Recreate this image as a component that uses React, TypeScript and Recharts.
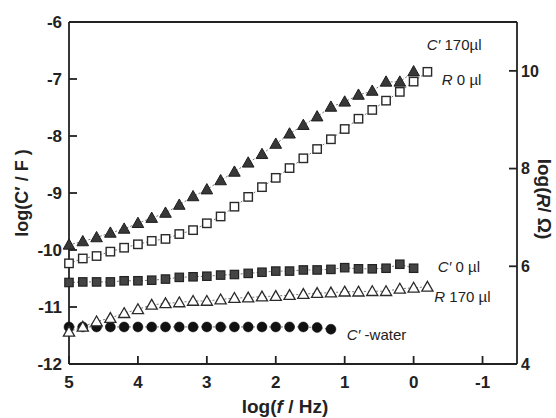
import React from 'react';
import { LineChart, Line, XAxis, YAxis, ReferenceLine, ReferenceDot } from 'recharts';

const FONT = '"Liberation Sans", Arial, Helvetica, sans-serif';

// log(f / Hz) sampling points (5 per decade)
const logF = [5, 4.8, 4.6, 4.4, 4.2, 4, 3.8, 3.6, 3.4, 3.2, 3, 2.8, 2.6, 2.4, 2.2, 2, 1.8, 1.6, 1.4, 1.2, 1, 0.8, 0.6, 0.4, 0.2, 0, -0.2];

// left axis: log(C'/F)
const cPrime170 = [-9.91, -9.85, -9.78, -9.7, -9.63, -9.53, -9.44, -9.35, -9.21, -9.06, -8.94, -8.78, -8.63, -8.47, -8.32, -8.14, -7.96, -7.81, -7.66, -7.49, -7.4, -7.28, -7.21, -7.05, -7.05, -6.87];
const cPrime0 = [-10.57, -10.56, -10.56, -10.56, -10.54, -10.54, -10.53, -10.51, -10.48, -10.47, -10.46, -10.44, -10.43, -10.41, -10.39, -10.37, -10.37, -10.35, -10.35, -10.34, -10.31, -10.33, -10.33, -10.32, -10.25, -10.32];
const cPrimeWater = [-11.35, -11.35, -11.35, -11.35, -11.35, -11.35, -11.35, -11.35, -11.35, -11.35, -11.35, -11.35, -11.35, -11.35, -11.35, -11.35, -11.35, -11.35, -11.36, -11.39];

// right axis: log(R/Ω)
const r0 = [6.06, 6.16, 6.21, 6.3, 6.38, 6.45, 6.52, 6.56, 6.66, 6.74, 6.88, 7.02, 7.22, 7.42, 7.62, 7.81, 8.01, 8.21, 8.4, 8.6, 8.81, 9.02, 9.2, 9.39, 9.57, 9.78, 9.98];
const r170 = [4.66, 4.76, 4.87, 4.94, 5.04, 5.12, 5.21, 5.24, 5.26, 5.29, 5.29, 5.32, 5.35, 5.36, 5.38, 5.39, 5.41, 5.43, 5.45, 5.46, 5.48, 5.48, 5.49, 5.49, 5.54, 5.56, 5.58];

const xTicks = [5, 4, 3, 2, 1, 0, -1];
const leftTicks = [-12, -11, -10, -9, -8, -7, -6];
const rightTicks = [4, 6, 8, 10];

const toPoints = (vals: number[]) => vals.map((v, i) => ({ x: logF[i], y: v }));

const LINE_STROKE = '#777';
const DASH = '2 2';
const AXIS = '#222';
const TICK = -8; // negative = ticks point into the plot

const TriFilled = (p: any) => {
  const { cx, cy } = p;
  if (cx == null || cy == null) return null;
  return <path d={`M${cx},${cy - 6} L${cx + 5.8},${cy + 4.3} L${cx - 5.8},${cy + 4.3} Z`} fill="#383838" stroke="#1e1e1e" strokeWidth={1} />;
};
const TriOpen = (p: any) => {
  const { cx, cy } = p;
  if (cx == null || cy == null) return null;
  return <path d={`M${cx},${cy - 5.5} L${cx + 5.6},${cy + 4.3} L${cx - 5.6},${cy + 4.3} Z`} fill="#fff" stroke="#2a2a2a" strokeWidth={1.3} />;
};
const SqOpen = (p: any) => {
  const { cx, cy } = p;
  if (cx == null || cy == null) return null;
  return <rect x={cx - 4.2} y={cy - 4.2} width={8.4} height={8.4} fill="#fff" stroke="#2a2a2a" strokeWidth={1.4} />;
};
const SqFilled = (p: any) => {
  const { cx, cy } = p;
  if (cx == null || cy == null) return null;
  return <rect x={cx - 4.2} y={cy - 4.2} width={8.4} height={8.4} fill="#444" stroke="#222" strokeWidth={1.2} />;
};
const Circ = (p: any) => {
  const { cx, cy } = p;
  if (cx == null || cy == null) return null;
  return <circle cx={cx} cy={cy} r={5} fill="#111" stroke="#111" strokeWidth={0.5} />;
};

const tickStyle = { fill: '#222', fontSize: 17, fontWeight: 'bold', fontFamily: FONT } as any;
const rightTickStyle = { fill: '#222', fontSize: 16, fontWeight: 'bold', fontFamily: FONT } as any;
const axisLineStyle = { stroke: AXIS, strokeWidth: 1.8 };
const tickLineStyle = { stroke: AXIS, strokeWidth: 1.8 };

const leftTitle = (props: any) => {
  const vb = props.viewBox || { x: 0, y: 0, width: 0, height: 0 };
  const cx = vb.x + 3;
  const cy = vb.y + vb.height / 2;
  return (
    <text x={cx} y={cy} transform={`rotate(-90 ${cx} ${cy})`} textAnchor="middle" dominantBaseline="central" fontFamily={FONT} fontSize={18} fontWeight="bold" fill="#222">
      log(C′ / F )
    </text>
  );
};

const rightTitle = (props: any) => {
  const vb = props.viewBox || { x: 0, y: 0, width: 0, height: 0 };
  const cx = vb.x + 27;
  const cy = vb.y + vb.height / 2 + 6;
  return (
    <text x={cx} y={cy} transform={`rotate(90 ${cx} ${cy})`} textAnchor="middle" dominantBaseline="central" fontFamily={FONT} fontSize={19} fontWeight="bold" fill="#222">
      log(<tspan fontStyle="italic">R</tspan>/ Ω)
    </text>
  );
};

const bottomTitle = (props: any) => {
  const vb = props.viewBox || { x: 0, y: 0, width: 0, height: 0 };
  const cx = vb.x + vb.width / 2 - 8;
  const cy = vb.y + 49;
  return (
    <text x={cx} y={cy} textAnchor="middle" fontFamily={FONT} fontSize={19} fontWeight="bold" fill="#222">
      log(<tspan fontStyle="italic">f</tspan> / Hz)
    </text>
  );
};

const makeLabel = (italicPart: string, rest: string) => (props: any) => {
  const vb = props.viewBox || { x: 0, y: 0 };
  return (
    <text x={vb.x + 1} y={vb.y + 6} textAnchor="start" fontFamily={FONT} fontSize={15} fill="#222">
      <tspan fontStyle="italic">{italicPart}</tspan>
      {rest}
    </text>
  );
};

const seriesLabels = [
  { x: -0.19, y: -6.4, it: 'C′', rest: ' 170µl' },
  { x: -0.41, y: -7.02, it: 'R', rest: ' 0 µl' },
  { x: -0.35, y: -10.3, it: 'C′', rest: ' 0 µl' },
  { x: -0.3, y: -10.82, it: 'R', rest: ' 170 µl' },
  { x: 0.97, y: -11.49, it: 'C′', rest: ' -water' },
];

export default function App() {
  return (
    <div style={{ position: 'absolute', left: 8, top: 8 }}>
      <LineChart width={548} height={410} margin={{ top: 14, right: 3, bottom: 10, left: 11 }}>
        <XAxis
          type="number"
          dataKey="x"
          domain={[-1.5, 5]}
          reversed
          ticks={xTicks}
          interval={0}
          height={44}
          tickSize={TICK}
          tickMargin={20}
          tick={tickStyle}
          axisLine={axisLineStyle}
          tickLine={tickLineStyle}
          label={bottomTitle}
        />
        <YAxis
          yAxisId="left"
          type="number"
          domain={[-12, -6]}
          ticks={leftTicks}
          interval={0}
          width={50}
          tickSize={TICK}
          tickMargin={15}
          tick={tickStyle}
          axisLine={axisLineStyle}
          tickLine={tickLineStyle}
          label={leftTitle}
        />
        <YAxis
          yAxisId="right"
          orientation="right"
          type="number"
          domain={[4, 11]}
          ticks={rightTicks}
          interval={0}
          width={36}
          tickSize={TICK}
          tickMargin={12}
          tick={rightTickStyle}
          axisLine={axisLineStyle}
          tickLine={tickLineStyle}
          label={rightTitle}
        />
        <ReferenceLine yAxisId="left" y={-6} stroke={AXIS} strokeWidth={1.8} />

        <Line yAxisId="left" data={toPoints(cPrimeWater)} dataKey="y" stroke={LINE_STROKE} strokeWidth={1} strokeDasharray={DASH} isAnimationActive={false} activeDot={false} dot={(p: any) => <Circ key={`w${p.index}`} {...p} />} />
        <Line yAxisId="right" data={toPoints(r170)} dataKey="y" stroke={LINE_STROKE} strokeWidth={1} strokeDasharray={DASH} isAnimationActive={false} activeDot={false} dot={(p: any) => <TriOpen key={`t${p.index}`} {...p} />} />
        <Line yAxisId="left" data={toPoints(cPrime0)} dataKey="y" stroke={LINE_STROKE} strokeWidth={1} strokeDasharray={DASH} isAnimationActive={false} activeDot={false} dot={(p: any) => <SqFilled key={`s${p.index}`} {...p} />} />
        <Line yAxisId="right" data={toPoints(r0)} dataKey="y" stroke={LINE_STROKE} strokeWidth={1} strokeDasharray={DASH} isAnimationActive={false} activeDot={false} dot={(p: any) => <SqOpen key={`o${p.index}`} {...p} />} />
        <Line yAxisId="left" data={toPoints(cPrime170)} dataKey="y" stroke={LINE_STROKE} strokeWidth={1} strokeDasharray={DASH} isAnimationActive={false} activeDot={false} dot={(p: any) => <TriFilled key={`f${p.index}`} {...p} />} />

        {seriesLabels.map((l, i) => (
          <ReferenceDot key={`lab${i}`} yAxisId="left" x={l.x} y={l.y} r={1} fill="none" stroke="none" label={makeLabel(l.it, l.rest)} />
        ))}
      </LineChart>
    </div>
  );
}
